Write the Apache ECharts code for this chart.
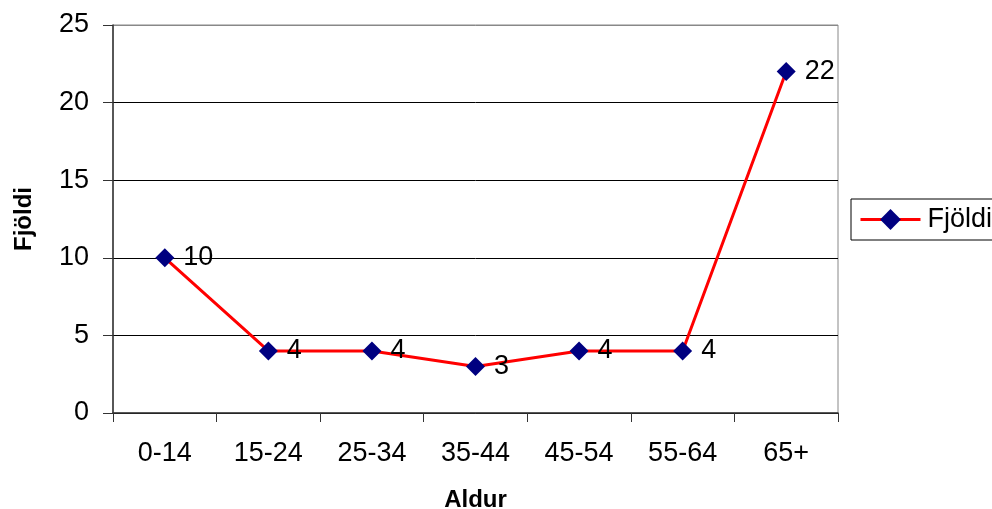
<!DOCTYPE html>
<html>
<head>
<meta charset="utf-8">
<script src="https://cdn.jsdelivr.net/npm/echarts@6/dist/echarts.min.js"></script>
<style>
html,body{margin:0;padding:0;background:#fff;}
#chart{width:992px;height:509px;}
</style>
</head>
<body>
<div id="chart"></div>
<script>
var categories = ['0-14', '15-24', '25-34', '35-44', '45-54', '55-64', '65+'];
var values = [10, 4, 4, 3, 4, 4, 22];
var seriesName = 'Fjöldi';
var xAxisName = 'Aldur';
var yAxisName = 'Fjöldi';

var FONT = '"Liberation Sans", Arial, sans-serif';
var chart = echarts.init(document.getElementById('chart'), null, {renderer: 'canvas'});
chart.setOption({
  animation: false,
  backgroundColor: '#fff',
  grid: {left: 113, right: 154, top: 25, bottom: 96, containLabel: false, outerBoundsMode: 'none',
         show: true, borderColor: '#888', borderWidth: 1, backgroundColor: 'transparent'},
  legend: {
    left: 851, top: 199,
    padding: [7, 8, 7, 8],
    borderColor: '#000', borderWidth: 1,
    itemWidth: 60, itemHeight: 26, itemGap: 0,
    lineStyle: {width: 3, color: '#ff0000'},
    textStyle: {fontFamily: FONT, fontSize: 27, color: '#000', padding: [0,0,0,2]},
    data: [seriesName]
  },
  xAxis: {
    type: 'category',
    data: categories,
    boundaryGap: true,
    name: xAxisName,
    nameLocation: 'middle',
    nameGap: 75,
    nameTextStyle: {fontFamily: FONT, fontSize: 24, fontWeight: 'bold', color: '#000'},
    axisLine: {lineStyle: {color: '#333', width: 1.5}},
    axisTick: {show: true, length: 9, lineStyle: {color: '#333', width: 1}},
    axisLabel: {fontFamily: FONT, fontSize: 27, color: '#000', margin: 27}
  },
  yAxis: {
    type: 'value',
    min: 0, max: 25, interval: 5,
    name: yAxisName,
    nameLocation: 'middle',
    nameGap: 77,
    nameTextStyle: {fontFamily: FONT, fontSize: 24, fontWeight: 'bold', color: '#000'},
    axisLine: {show: true, lineStyle: {color: '#333', width: 1.5}},
    axisTick: {show: true, length: 10, lineStyle: {color: '#333', width: 1}},
    axisLabel: {fontFamily: FONT, fontSize: 27, color: '#000', margin: 24},
    splitLine: {show: true, lineStyle: {color: ['#000', '#000', '#000', '#000', '#000', '#888'], width: 1}}
  },
  series: [{
    name: seriesName,
    type: 'line',
    data: values,
    symbol: 'diamond',
    symbolSize: 19,
    lineStyle: {color: '#ff0000', width: 3},
    itemStyle: {color: '#000080'},
    label: {show: true, position: 'right', distance: 9, fontFamily: FONT, fontSize: 27, color: '#000'}
  }]
});
</script>
</body>
</html>
